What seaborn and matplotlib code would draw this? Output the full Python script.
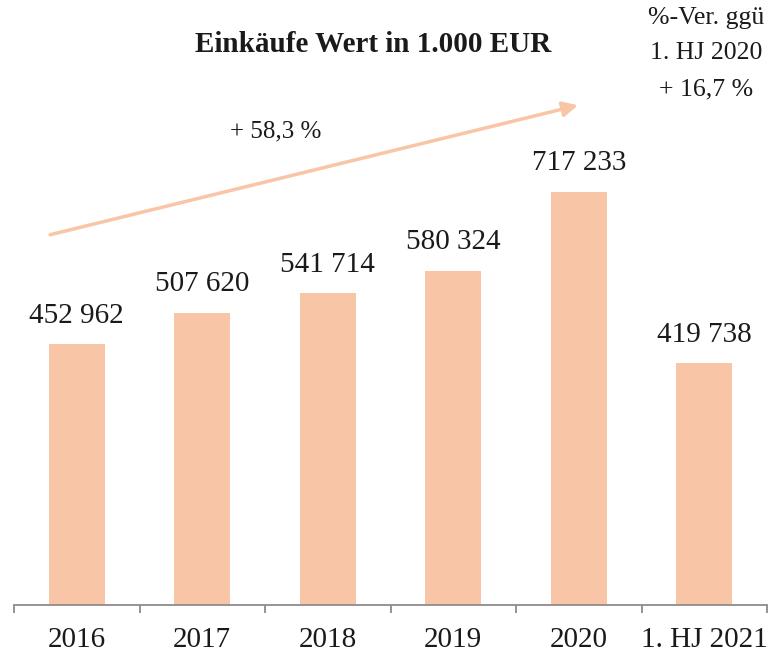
import numpy as np
import pandas as pd
import matplotlib
matplotlib.use("Agg")
import matplotlib.pyplot as plt
import seaborn as sns

categories = ["2016", "2017", "2018", "2019", "2020", "1. HJ 2021"]
values = [452962, 507620, 541714, 580324, 717233, 419738]
title = "Einkäufe Wert in 1.000 EUR"
growth_label = "+ 58,3 %"
hj_note_lines = ["%-Ver. ggü", "1. HJ 2020", "+ 16,7 %"]

bar_color = "#F8C6A6"
axis_color = "#8C8C8C"

sns.set_style("white")
plt.rcParams['font.family'] = ['Liberation Serif', 'DejaVu Serif']

df = pd.DataFrame({"Jahr": categories, "Wert": values})

fig = plt.figure(figsize=(7.71, 6.51), dpi=100)
ax = fig.add_axes([14 / 771, 46 / 651, 753 / 771, 605 / 651])

sns.barplot(data=df, x="Jahr", y="Wert", color=bar_color, width=0.45,
            saturation=1, linewidth=0, ax=ax)

ax.set_xlim(-0.5, len(categories) - 0.5)
ax.set_ylim(0, 1050000)

# value labels above bars
for i, v in enumerate(values):
    ax.annotate(f"{v:,}".replace(",", " "), (i, v), xytext=(0, 11),
                textcoords="offset points", ha="center", va="bottom",
                fontsize=21, color="#1a1a1a")

# axes styling
for s in ["top", "right", "left"]:
    ax.spines[s].set_visible(False)
ax.spines["bottom"].set_color(axis_color)
ax.spines["bottom"].set_linewidth(1.3)
ax.set_yticks([])
ax.set_xlabel("")
ax.set_ylabel("")
ax.set_xticks(range(len(categories)))
ax.set_xticklabels(categories)
ax.set_xticks(np.arange(-0.5, len(categories)), minor=True)
ax.tick_params(axis="x", which="major", length=0, pad=15.5, labelsize=21,
               labelcolor="#1a1a1a")
ax.tick_params(axis="x", which="minor", length=6, width=1.3,
               color=axis_color, direction="out", bottom=True)

# growth arrow
ax.annotate("", xy=(0.749, 0.826), xytext=(0.048, 0.612),
            xycoords="axes fraction", textcoords="axes fraction",
            arrowprops=dict(arrowstyle="-|>,head_length=0.9,head_width=0.45",
                            color=bar_color, lw=2.5, shrinkA=0, shrinkB=0))
ax.text(0.348, 0.782, growth_label, transform=ax.transAxes, ha="center",
        va="center", fontsize=18, color="#1a1a1a")

fig.text(0.4844, 0.932, title, ha="center", va="center", fontsize=21,
         fontweight="bold", color="#1a1a1a")
for line, y in zip(hj_note_lines, [0.972, 0.918, 0.862]):
    fig.text(0.916, y, line, ha="center", va="center", fontsize=18.5,
             color="#1a1a1a")

fig.savefig("out.png", dpi=100, facecolor="white")
